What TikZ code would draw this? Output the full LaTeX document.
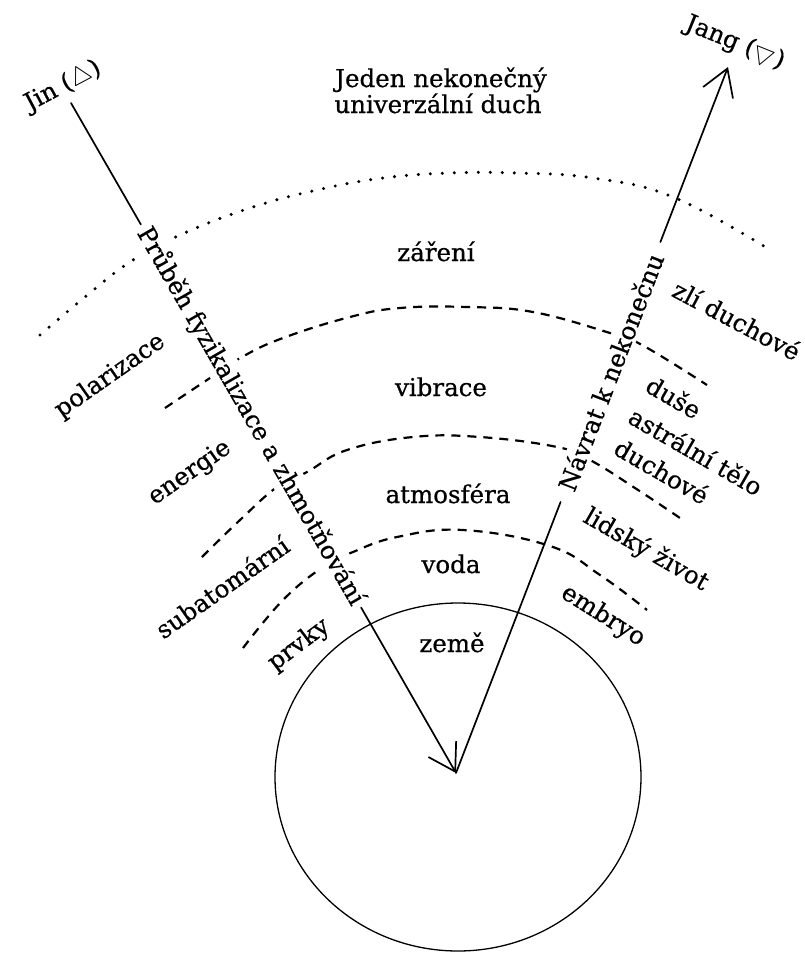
\documentclass[tikz,border=0pt]{standalone}
\usepackage{fontspec}
\setmainfont{DejaVu Serif}
\newfontfamily\lblfont{DejaVu Serif}[FakeBold=0.6]
\usetikzlibrary{arrows.meta}
\begin{document}
\begin{tikzpicture}[x=1pt,y=-1pt,
  lbl/.style={font=\lblfont\fontsize{24.5}{26}\selectfont, inner sep=1pt},
  pathtxt/.style={lbl, fill=white, inner ysep=3pt},
  dotcurve/.style={line width=3.4pt, line cap=round, dash pattern=on 0pt off 12pt},
  dashcurve/.style={line width=2.2pt, dash pattern=on 9pt off 7pt},
  axisline/.style={line width=1.7pt, line cap=round, line join=round},
  barb/.style={-{Straight Barb[length=26pt,width=32pt]}}
]
\useasboundingbox (0,0) rectangle (805,954);

% layer boundaries
\draw[dotcurve] plot[smooth,tension=0.7] coordinates {(40,335) (85,297) (130,262) (180,235) (250,208) (317,190) (383,178) (450,173) (517,173) (593,178) (673,197) (767,248)};
\draw[dashcurve] plot[smooth,tension=0.7] coordinates {(165,408) (207,380) (242,357) (283,338) (350,317) (400,308) (467,307) (533,312) (610,333) (642,345) (707,385)};
\draw[dashcurve] plot[smooth,tension=0.7] coordinates {(202,557) (240,520) (277,487) (307,472) (347,450) (413,437) (480,437) (557,447) (590,460) (635,488) (680,518)};
\draw[dashcurve] plot[smooth,tension=0.7] coordinates {(243,648) (283,600) (323,567) (353,552) (397,537) (463,530) (550,546) (600,575) (647,610)};

% earth
\draw[line width=1.3pt] (458,777) ellipse [x radius=183, y radius=174];

% horizontal labels
\node[lbl, anchor=base] (title1) at (441,87) {Jeden nekonečný};
\node[lbl, anchor=base] (title2) at (438,113) {univerzální duch};
\node[lbl, anchor=base] (zareni) at (436,261) {záření};
\node[lbl, anchor=base] (vibrace) at (441,396) {vibrace};
\node[lbl, anchor=base] (atmo) at (448,503) {atmosféra};
\node[lbl, anchor=base] (voda) at (451,573) {voda};
\node[lbl, anchor=base] (zeme) at (452,652) {země};

% rotated labels
\node[lbl, rotate=28] (jin) at (63,86) {Jin ($\bigtriangleup$)};
\node[lbl, rotate=-22] (jang) at (735,43) {Jang ($\bigtriangledown$)};
\node[lbl, rotate=35] (polar) at (110,376) {polarizace};
\node[lbl, rotate=35] (energie) at (190,473) {energie};
\node[lbl, rotate=35] (subat) at (222,587) {subatomární};
\node[lbl, rotate=37] (prvky) at (299,645) {prvky};
\node[lbl, rotate=-28] (zli) at (737,320) {zlí duchové};
\node[lbl, rotate=-30] (duse) at (674,397) {duše};
\node[lbl, rotate=-30] (astral) at (696,451) {astrální tělo};
\node[lbl, rotate=-30] (duchove) at (662,471) {duchové};
\node[lbl, rotate=-30] (lidsky) at (646,550) {lidský život};
\node[lbl, rotate=-32] (embryo) at (603,616) {embryo};

% path texts
\node[pathtxt, rotate=-60.1, inner xsep=5pt] (pruben) at (251,416) {Průběh fyzikalizace a zhmotňování};
\node[pathtxt, rotate=69, inner xsep=13pt] (navrat) at (610.5,372) {Návrat k nekonečnu};

\coordinate (jinstart) at (71,103);
\coordinate (o) at (456,773);
\coordinate (jangtip) at (728,67);

\draw[axisline] (jinstart) -- (pruben.west);
\draw[axisline, barb] (pruben.east) -- (o);
\draw[axisline] (o) -- (navrat.west);
\draw[axisline, barb] (navrat.east) -- (jangtip);
\end{tikzpicture}
\end{document}
